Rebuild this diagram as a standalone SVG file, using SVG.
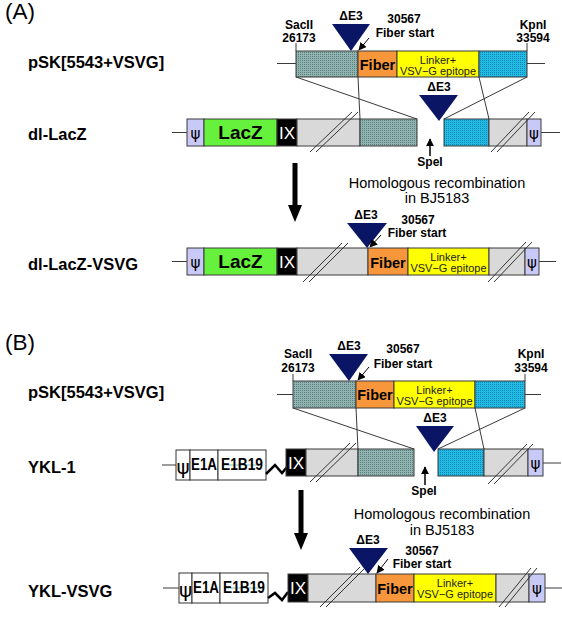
<svg xmlns="http://www.w3.org/2000/svg" width="562" height="622" viewBox="0 0 562 622">
<style>
text{font-family:"Liberation Sans",Arial,sans-serif}
.lbl{font-weight:bold;font-size:16.5px}
.sec{font-size:22.5px}
.sm{font-weight:bold;font-size:12px;text-anchor:middle}
.hr{font-size:14.5px;text-anchor:middle}
.b{stroke:#3a3a3a;stroke-width:1}
.ln{stroke:#3a3a3a;stroke-width:1;fill:none}
.psi{fill:#c9c9f7}
.lacz{fill:#66f23c}
.ix{fill:#000}
.gr{fill:#d9d9d9}
.fib{fill:#f7963a}
.yel{fill:#ffff00}
.wh{fill:#fff;stroke:#333;stroke-width:1}
.tri{fill:#0b1566}
.ft{font-weight:bold;font-size:14.5px;text-anchor:middle}
.lk{font-size:11px;text-anchor:middle;fill:#222}
.ixt{font-size:17px;fill:#fff;text-anchor:middle}
.lz{font-weight:bold;font-size:19px;text-anchor:middle}
.pt{font-family:"DejaVu Sans",sans-serif;font-size:15px;text-anchor:middle}
.pb{font-family:"DejaVu Sans",sans-serif;font-size:20px;text-anchor:middle}
.e{font-weight:bold;font-size:17px;text-anchor:middle}
.zz{stroke:#000;stroke-width:2.5;fill:none;stroke-linejoin:miter}
.sl{stroke:#333;stroke-width:1}
.big{fill:#000}
</style>
<defs>
<pattern id="hg" width="2" height="2" patternUnits="userSpaceOnUse">
<rect width="2" height="2" fill="#93b4b0"/><rect width="1" height="1" fill="#557f7b"/>
</pattern>
<pattern id="hb" width="2" height="2" patternUnits="userSpaceOnUse">
<rect width="2" height="2" fill="#22bce6"/><rect width="1" height="1" fill="#0f86ad"/>
</pattern>
<marker id="ah" viewBox="0 0 10 10" refX="9" refY="5" markerWidth="8" markerHeight="8" markerUnits="userSpaceOnUse" orient="auto">
<path d="M0,0 L10,5 L0,10 z" fill="#000"/>
</marker>
</defs>

<g id="section-labels">
<text class="sec" x="5" y="19">(A)</text>
<text class="sec" x="5" y="350">(B)</text>
<text class="lbl" x="28" y="68">pSK[5543+VSVG]</text>
<text class="lbl" x="28" y="140">dl-LacZ</text>
<text class="lbl" x="28" y="270">dl-LacZ-VSVG</text>
<text class="lbl" x="28" y="398">pSK[5543+VSVG]</text>
<text class="lbl" x="28" y="473">YKL-1</text>
<text class="lbl" x="28" y="597">YKL-VSVG</text>
</g>

<!-- A: pSK -->
<g id="a-psk">
<line class="ln" x1="277" y1="63.5" x2="296" y2="63.5"/>
<line class="ln" x1="527" y1="63.5" x2="545" y2="63.5"/>
<line class="ln" x1="296" y1="43" x2="296" y2="51"/>
<line class="ln" x1="527" y1="43" x2="527" y2="51"/>
<rect class="b" x="296" y="51" width="62" height="26" fill="url(#hg)"/>
<rect class="b fib" x="358" y="51" width="39" height="26"/>
<rect class="b yel" x="397" y="51" width="82" height="26"/>
<rect class="b" x="479" y="51" width="48" height="26" fill="url(#hb)"/>
<text class="ft" x="377.5" y="70">Fiber</text>
<text class="lk" x="438" y="63.5">Linker+</text>
<text class="lk" x="438" y="75">VSV−G epitope</text>
<text class="sm" x="299" y="29">SacII</text>
<text class="sm" x="299" y="42">26173</text>
<text class="sm" x="533" y="29">KpnI</text>
<text class="sm" x="533" y="42">33594</text>
<polygon class="tri" points="332,24 370,24 351,51"/>
<text class="sm" x="351" y="20">ΔE3</text>
<text class="sm" x="404" y="23">30567</text>
<text class="sm" x="405" y="37">Fiber start</text>
</g>

<!-- A: dl-LacZ -->
<g id="a-dllacz">
<line class="ln" x1="172" y1="132.5" x2="187" y2="132.5"/>
<line class="ln" x1="541" y1="132.5" x2="560" y2="132.5"/>
<rect class="b psi" x="187" y="119" width="17" height="27"/>
<rect class="b lacz" x="204" y="119" width="73" height="27"/>
<rect class="b ix" x="277" y="119" width="20" height="27"/>
<rect class="b gr" x="297" y="119" width="63" height="27"/>
<rect class="b" x="360" y="119" width="57" height="27" fill="url(#hg)"/>
<rect class="b" x="444" y="119" width="45" height="27" fill="url(#hb)"/>
<rect class="b gr" x="489" y="119" width="38" height="27"/>
<rect class="b psi" x="527" y="119" width="14" height="27"/>
<text class="pt" x="195.5" y="139">ψ</text>
<text class="lz" x="240.5" y="139">LacZ</text>
<text class="ixt" x="287" y="139">IX</text>
<text class="pt" x="534" y="139">ψ</text>
<line class="sl" x1="310" y1="152" x2="352" y2="112"/>
<line class="sl" x1="316" y1="152" x2="358" y2="112"/>
<line class="sl" x1="491" y1="152" x2="529" y2="112"/>
<line class="sl" x1="497" y1="152" x2="535" y2="112"/>
<polygon class="tri" points="419,95 458,95 439,121"/>
<text class="sm" x="439" y="91">ΔE3</text>
<text class="sm" x="430" y="166">SpeI</text>
</g>

<!-- A: dl-LacZ-VSVG -->
<g id="a-dllacz-vsvg">
<line class="ln" x1="172" y1="261.5" x2="187" y2="261.5"/>
<line class="ln" x1="539" y1="261.5" x2="556" y2="261.5"/>
<rect class="b psi" x="187" y="248" width="17" height="27"/>
<rect class="b lacz" x="204" y="248" width="73" height="27"/>
<rect class="b ix" x="277" y="248" width="20" height="27"/>
<rect class="b gr" x="297" y="248" width="71" height="27"/>
<rect class="b fib" x="368" y="248" width="40" height="27"/>
<rect class="b yel" x="408" y="248" width="81" height="27"/>
<rect class="b gr" x="489" y="248" width="36" height="27"/>
<rect class="b psi" x="525" y="248" width="14" height="27"/>
<text class="pt" x="195.5" y="268">ψ</text>
<text class="lz" x="240.5" y="268">LacZ</text>
<text class="ixt" x="287" y="268">IX</text>
<text class="ft" x="388" y="268">Fiber</text>
<text class="lk" x="448.5" y="260.5">Linker+</text>
<text class="lk" x="448.5" y="272">VSV−G epitope</text>
<text class="pt" x="532" y="268">ψ</text>
<line class="sl" x1="303" y1="282" x2="342" y2="243"/>
<line class="sl" x1="309" y1="282" x2="348" y2="243"/>
<line class="sl" x1="488" y1="282" x2="526" y2="242"/>
<line class="sl" x1="494" y1="282" x2="532" y2="242"/>
<polygon class="tri" points="347,223 387,223 367,248"/>
<text class="sm" x="366" y="219">ΔE3</text>
<text class="sm" x="418" y="224">30567</text>
<text class="sm" x="417" y="237">Fiber start</text>
</g>

<!-- B: pSK -->
<g id="b-psk">
<line class="ln" x1="277" y1="394.5" x2="293" y2="394.5"/>
<line class="ln" x1="525" y1="394.5" x2="541" y2="394.5"/>
<line class="ln" x1="293" y1="374" x2="293" y2="381"/>
<line class="ln" x1="525" y1="374" x2="525" y2="381"/>
<rect class="b" x="293" y="381" width="63" height="27" fill="url(#hg)"/>
<rect class="b fib" x="356" y="381" width="38" height="27"/>
<rect class="b yel" x="394" y="381" width="81" height="27"/>
<rect class="b" x="475" y="381" width="50" height="27" fill="url(#hb)"/>
<text class="ft" x="375" y="400">Fiber</text>
<text class="lk" x="434.5" y="393.5">Linker+</text>
<text class="lk" x="434.5" y="405">VSV−G epitope</text>
<text class="sm" x="298" y="358">SacII</text>
<text class="sm" x="298" y="372">26173</text>
<text class="sm" x="531" y="358">KpnI</text>
<text class="sm" x="531" y="372">33594</text>
<polygon class="tri" points="329,354 368,354 349,381"/>
<text class="sm" x="349" y="350">ΔE3</text>
<text class="sm" x="403" y="353">30567</text>
<text class="sm" x="403" y="368">Fiber start</text>
</g>

<!-- B: YKL-1 -->
<g id="b-ykl1">
<line class="ln" x1="162" y1="465" x2="176" y2="465"/>
<line class="ln" x1="543" y1="463" x2="561" y2="463"/>
<rect class="wh" x="176" y="450" width="14" height="30"/>
<rect class="wh" x="190" y="450" width="28" height="30"/>
<rect class="wh" x="218" y="450" width="48" height="30"/>
<line x1="222" y1="465" x2="262" y2="465" stroke="#5fb8a8" stroke-width="0.8"/>
<polyline class="zz" points="266,474 275,465 282,473 287,467"/>
<rect class="b ix" x="286" y="449" width="20" height="27"/>
<rect class="b gr" x="306" y="449" width="52" height="27"/>
<rect class="b" x="358" y="449" width="56" height="27" fill="url(#hg)"/>
<rect class="b" x="438" y="449" width="46" height="27" fill="url(#hb)"/>
<rect class="b gr" x="484" y="449" width="44" height="27"/>
<rect class="b psi" x="528" y="449" width="15" height="27"/>
<text class="pb" x="183" y="474">ψ</text>
<text class="e" x="204" y="470" textLength="26" lengthAdjust="spacingAndGlyphs">E1A</text>
<text class="e" x="242" y="470" textLength="42" lengthAdjust="spacingAndGlyphs">E1B19</text>
<text class="ixt" x="296" y="469">IX</text>
<text class="pt" x="535.5" y="469">ψ</text>
<line class="sl" x1="310" y1="482" x2="350" y2="443"/>
<line class="sl" x1="316" y1="482" x2="356" y2="443"/>
<line class="sl" x1="488" y1="484" x2="527" y2="444"/>
<line class="sl" x1="494" y1="484" x2="533" y2="444"/>
<polygon class="tri" points="416,426 454,426 434,452"/>
<text class="sm" x="435" y="422">ΔE3</text>
<text class="sm" x="424" y="495">SpeI</text>
</g>

<!-- B: YKL-VSVG -->
<g id="b-yklvsvg">
<line class="ln" x1="163" y1="588" x2="179" y2="588"/>
<line class="ln" x1="545" y1="588" x2="562" y2="588"/>
<rect class="wh" x="179" y="573" width="13" height="30"/>
<rect class="wh" x="192" y="573" width="28" height="30"/>
<rect class="wh" x="220" y="573" width="48" height="30"/>
<line x1="224" y1="588" x2="264" y2="588" stroke="#5fb8a8" stroke-width="0.8"/>
<polyline class="zz" points="268,598 275,593 282,600 288,592"/>
<rect class="b ix" x="288" y="574" width="20" height="28"/>
<rect class="b gr" x="308" y="574" width="68" height="28"/>
<rect class="b fib" x="376" y="574" width="38" height="28"/>
<rect class="b yel" x="414" y="574" width="82" height="28"/>
<rect class="b gr" x="496" y="574" width="33" height="28"/>
<rect class="b psi" x="529" y="574" width="16" height="28"/>
<text class="pb" x="185.5" y="597">ψ</text>
<text class="e" x="206" y="593" textLength="26" lengthAdjust="spacingAndGlyphs">E1A</text>
<text class="e" x="244" y="593" textLength="42" lengthAdjust="spacingAndGlyphs">E1B19</text>
<text class="ixt" x="298" y="594">IX</text>
<text class="ft" x="395" y="594">Fiber</text>
<text class="lk" x="455" y="586.5">Linker+</text>
<text class="lk" x="455" y="598">VSV−G epitope</text>
<text class="pt" x="537" y="594">ψ</text>
<line class="sl" x1="320" y1="607" x2="360" y2="567"/>
<line class="sl" x1="326" y1="607" x2="366" y2="567"/>
<line class="sl" x1="499" y1="607" x2="531" y2="568"/>
<line class="sl" x1="505" y1="607" x2="537" y2="568"/>
<polygon class="tri" points="349,548 388,548 368,574"/>
<text class="sm" x="368" y="544">ΔE3</text>
<text class="sm" x="422" y="555">30567</text>
<text class="sm" x="422" y="568">Fiber start</text>
</g>

<g id="notes">
<text class="hr" x="437" y="188">Homologous recombination</text>
<text class="hr" x="437" y="203">in BJ5183</text>
<text class="hr" x="442" y="519">Homologous recombination</text>
<text class="hr" x="442" y="535">in BJ5183</text>
</g>

<g id="connectors">
<line class="ln" x1="296" y1="77" x2="417" y2="119"/>
<line class="ln" x1="358" y1="77" x2="360" y2="119"/>
<line class="ln" x1="479" y1="77" x2="489" y2="119"/>
<line class="ln" x1="527" y1="77" x2="444" y2="119"/>
<line class="ln" x1="293" y1="408" x2="414" y2="449"/>
<line class="ln" x1="356" y1="408" x2="358" y2="449"/>
<line class="ln" x1="475" y1="408" x2="484" y2="449"/>
<line class="ln" x1="525" y1="408" x2="438" y2="449"/>
<line x1="369" y1="38" x2="359" y2="50" stroke="#000" stroke-width="1" marker-end="url(#ah)"/>
<line x1="381" y1="235" x2="370" y2="247" stroke="#000" stroke-width="1" marker-end="url(#ah)"/>
<line x1="369" y1="367" x2="358" y2="380" stroke="#000" stroke-width="1" marker-end="url(#ah)"/>
<line x1="388" y1="559" x2="377" y2="573" stroke="#000" stroke-width="1" marker-end="url(#ah)"/>
<line x1="430" y1="156" x2="430" y2="139" stroke="#000" stroke-width="1.5" marker-end="url(#ah)"/>
<line x1="425" y1="485" x2="425" y2="467" stroke="#000" stroke-width="1.5" marker-end="url(#ah)"/>
<rect class="big" x="292.5" y="163" width="5" height="43"/>
<polygon class="big" points="288,205 302,205 295,222"/>
<rect class="big" x="298.5" y="490" width="5" height="44"/>
<polygon class="big" points="294,533 308,533 301,550"/>
</g>
</svg>
